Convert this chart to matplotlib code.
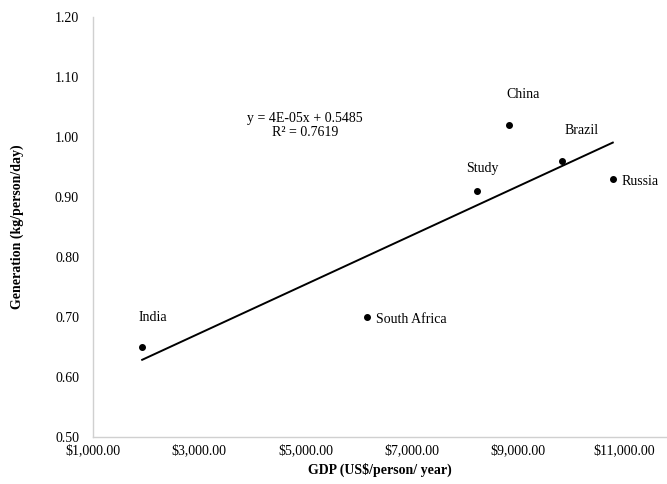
import numpy as np
import matplotlib
matplotlib.use("Agg")
from matplotlib import pyplot as plt

# data
countries = ["India", "South Africa", "Study", "China", "Brazil", "Russia"]
gdp = [1925, 6150, 8230, 8830, 9830, 10780]
generation = [0.65, 0.70, 0.91, 1.02, 0.96, 0.93]

x_ticks = [1000, 3000, 5000, 7000, 9000, 11000]
y_ticks = [0.50, 0.60, 0.70, 0.80, 0.90, 1.00, 1.10, 1.20]

# label offsets in points (dx, dy, ha)
label_pos = {
    "India": (8, 21, "center"),
    "South Africa": (7, -1.5, "left"),
    "Study": (4, 16, "center"),
    "China": (10, 22, "center"),
    "Brazil": (14, 22, "center"),
    "Russia": (6, -1.5, "left"),
}

plt.rcParams["font.family"] = ["Liberation Serif", "DejaVu Serif"]
plt.rcParams["font.size"] = 10

fig = plt.figure(figsize=(6.67, 4.84), dpi=100)
ax = fig.add_axes([93 / 667, (484 - 437) / 484, (667 - 93) / 667, (437 - 17) / 484])

ax.plot(gdp, generation, "o", color="black", markersize=4, zorder=3)

# linear trendline
slope, intercept = np.polyfit(gdp, generation, 1)
xs = np.array([min(gdp), max(gdp)])
ax.plot(xs, slope * xs + intercept, color="black", linewidth=1.4)

for name, gx, gy in zip(countries, gdp, generation):
    dx, dy, ha = label_pos[name]
    ax.annotate(name, (gx, gy), xytext=(dx, dy), textcoords="offset points",
                ha=ha, va="center", fontsize=10)

ax.text(4990, 1.019, "y = 4E-05x + 0.5485\nR² = 0.7619", ha="center", va="center",
        fontsize=10, linespacing=1.1)

ax.set_xlim(1000, 11800)
ax.set_ylim(0.50, 1.20)
ax.set_xticks(x_ticks)
ax.set_xticklabels([f"${v:,.2f}" for v in x_ticks])
ax.set_yticks(y_ticks)
ax.set_yticklabels([f"{v:.2f}" for v in y_ticks])
ax.tick_params(axis="x", length=0, pad=5)
ax.tick_params(axis="y", length=0, pad=10)

for side in ["top", "right"]:
    ax.spines[side].set_visible(False)
for side in ["left", "bottom"]:
    ax.spines[side].set_color("#d0d0d0")
    ax.spines[side].set_linewidth(1.0)

ax.set_xlabel("GDP (US$/person/ year)", fontweight="bold", fontsize=10, labelpad=4)
ax.set_ylabel("Generation (kg/person/day)", fontweight="bold", fontsize=10, labelpad=22)

fig.savefig("out.png", dpi=100)
